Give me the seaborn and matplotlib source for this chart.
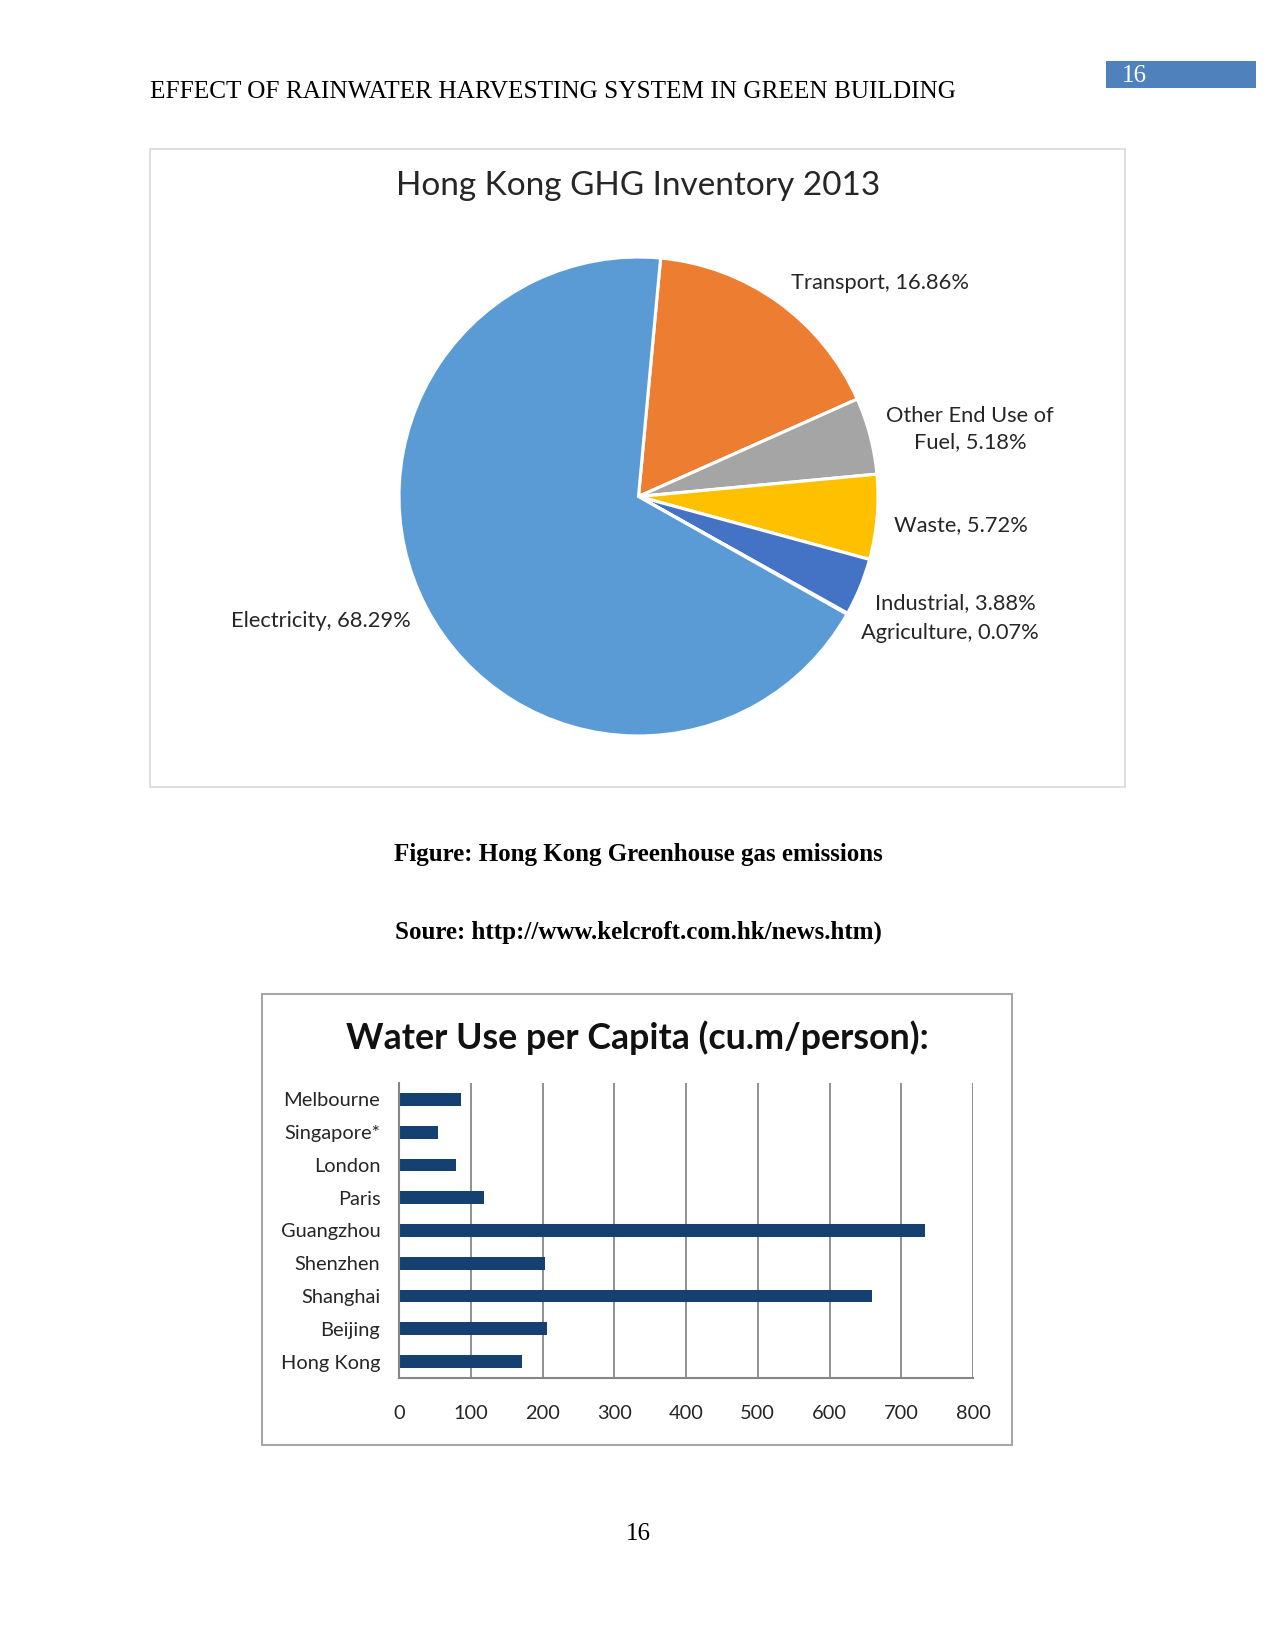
import matplotlib
matplotlib.use("Agg")
import matplotlib.pyplot as plt
from matplotlib.patches import Rectangle
import seaborn as sns
import pandas as pd

# ---------------- data ----------------
pie_labels = ["Transport, 16.86%", "Other End Use of\nFuel, 5.18%", "Waste, 5.72%",
              "Industrial, 3.88%", "Agriculture, 0.07%", "Electricity, 68.29%"]
pie_values = [16.86, 5.18, 5.72, 3.88, 0.07, 68.29]
pie_colors = ["#ED7D31", "#A5A5A5", "#FFC000", "#4472C4", "#70AD47", "#5B9BD5"]

cities = ["Melbourne", "Singapore*", "London", "Paris", "Guangzhou",
          "Shenzhen", "Shanghai", "Beijing", "Hong Kong"]
water_use = [86, 55, 79, 119, 733, 204, 659, 206, 172]
x_ticks = [0, 100, 200, 300, 400, 500, 600, 700, 800]

header_text = "EFFECT OF RAINWATER HARVESTING SYSTEM IN GREEN BUILDING"
page_no = "16"
pie_title = "Hong Kong GHG Inventory 2013"
caption1 = "Figure: Hong Kong Greenhouse gas emissions"
caption2 = "Soure: http://www.kelcroft.com.hk/news.htm)"
bar_title = "Water Use per Capita (cu.m/person):"

# ---------------- figure ----------------
sns.set_theme(style="white")
plt.rcParams["font.family"] = ["Lato", "DejaVu Sans"]

W, H = 1275, 1650
fig = plt.figure(figsize=(W / 150, H / 150), dpi=150)
fig.patch.set_facecolor("white")

def fx(px):
    return px / W

def fy(py):
    return 1 - py / H

def box(l, t, r, b):
    return [fx(l), fy(b), (r - l) / W, (b - t) / H]

serif = ["Liberation Serif", "DejaVu Serif"]

# header
fig.text(fx(150), fy(92), header_text, family=serif, fontsize=12.1, va="center", ha="left", color="black")
fig.patches.append(Rectangle((fx(1106), fy(88)), (1256 - 1106) / W, (88 - 61) / H,
                             transform=fig.transFigure, facecolor="#4F81BD", edgecolor="none", zorder=-1))
fig.text(fx(1122), fy(76), page_no, family=serif, fontsize=12, color="white", va="center", ha="left")

# pie chart frame
fig.patches.append(Rectangle((fx(150), fy(787)), (1125 - 150) / W, (787 - 149) / H,
                             transform=fig.transFigure, facecolor="white", edgecolor="#D9D9D9", lw=0.8, zorder=-1))
fig.text(fx(638), fy(186), pie_title, fontsize=16, ha="center", va="center", color="#262626")

cx, cy, R = 638.5, 496.5, 239.5
ax_pie = fig.add_axes(box(cx - R, cy - R, cx + R, cy + R))
ax_pie.pie(pie_values, colors=pie_colors, startangle=84.7, counterclock=False,
           wedgeprops=dict(edgecolor="white", linewidth=1.5))
ax_pie.set_xlim(-1.0, 1.0)
ax_pie.set_ylim(-1.0, 1.0)
ax_pie.set_aspect("equal")
ax_pie.axis("off")

lab_kw = dict(fontsize=10.5, color="#262626", va="center")
fig.text(fx(791), fy(283), pie_labels[0], ha="left", **lab_kw)
fig.text(fx(970), fy(429), pie_labels[1], ha="center", multialignment="center", linespacing=1.35, **lab_kw)
fig.text(fx(894), fy(525), pie_labels[2], ha="left", **lab_kw)
fig.text(fx(875), fy(603), pie_labels[3], ha="left", **lab_kw)
fig.text(fx(861), fy(633), pie_labels[4], ha="left", **lab_kw)
fig.text(fx(231), fy(621), pie_labels[5], ha="left", **lab_kw)

# captions
fig.text(fx(638), fy(854), caption1, family=serif, fontsize=12, weight="bold", ha="center", va="center", color="black")
fig.text(fx(638), fy(932), caption2, family=serif, fontsize=12, weight="bold", ha="center", va="center", color="black")

# bar chart frame
fig.patches.append(Rectangle((fx(262), fy(1445)), (1012 - 262) / W, (1445 - 994) / H,
                             transform=fig.transFigure, facecolor="white", edgecolor="#A6A6A6", lw=1.0, zorder=-1))
fig.text(fx(637), fy(1038), bar_title, fontsize=17.2, weight="bold", ha="center", va="center", color="#111111")

ax = fig.add_axes(box(399, 1083, 973, 1378))
df = pd.DataFrame({"city": cities, "use": water_use})
sns.barplot(data=df, x="use", y="city", orient="h", color="#144172", width=0.39,
            saturation=1, linewidth=0, ax=ax, order=cities)
ax.set_xlim(0, 800)
ax.set_ylim(len(cities) - 0.5, -0.5)
ax.set_xticks(x_ticks)
ax.set_xticklabels([str(v) for v in x_ticks], fontsize=9.6, color="#262626")
ax.set_yticks(range(len(cities)))
ax.set_yticklabels(cities, fontsize=9.6, color="#262626")
ax.set_yticks([i - 0.5 for i in range(len(cities) + 1)], minor=True)
ax.tick_params(axis="y", which="major", length=0, pad=9)
ax.tick_params(axis="y", which="minor", length=4, width=1, color="#868686", direction="out")
ax.tick_params(axis="x", which="major", length=4, width=1, color="#868686", direction="out", pad=9)
ax.xaxis.grid(True, color="#8C8C8C", lw=0.9)
ax.yaxis.grid(False)
ax.set_axisbelow(True)
ax.set_xlabel("")
ax.set_ylabel("")
for s in ["top", "right"]:
    ax.spines[s].set_visible(False)
for s in ["left", "bottom"]:
    ax.spines[s].set_visible(True)
    ax.spines[s].set_color("#868686")
    ax.spines[s].set_linewidth(1)
ax.set_facecolor("none")
ax_pie.set_facecolor("none")

# footer page number
fig.text(fx(638), fy(1534), page_no, family=serif, fontsize=12, ha="center", va="center", color="black")

fig.savefig("out.png", dpi=150, facecolor="white")
